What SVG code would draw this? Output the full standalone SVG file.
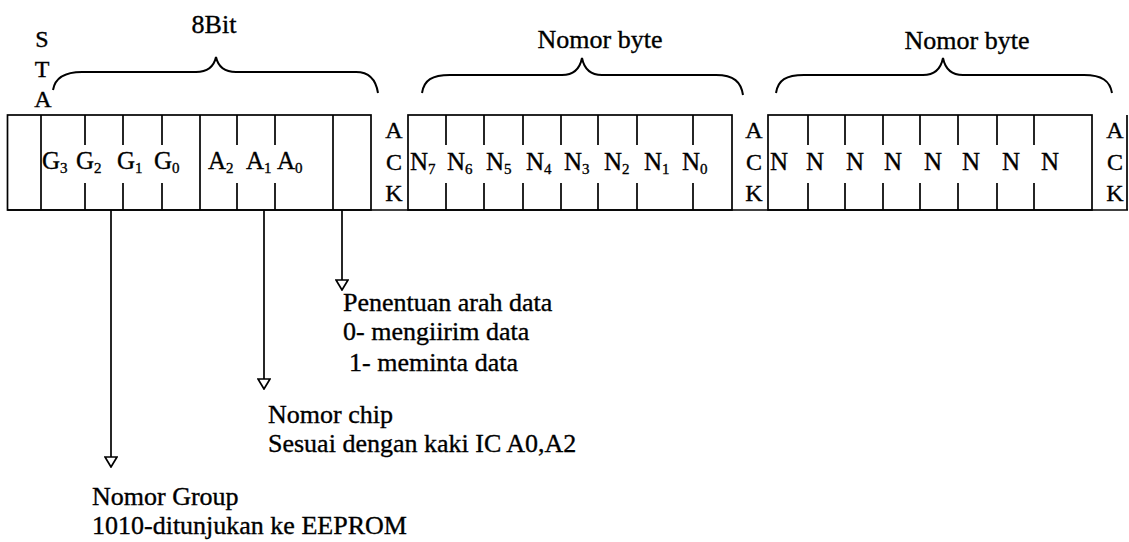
<svg xmlns="http://www.w3.org/2000/svg" width="1129" height="542" viewBox="0 0 1129 542">
<style>
  text { font-family: "Liberation Serif", "Times New Roman", serif; fill: #000; stroke: #000; stroke-width: 0.35px; }
  .ln { stroke: #000; stroke-width: 1.7; fill: none; }
  .br { stroke: #000; stroke-width: 2; fill: none; }
  .cell { font-size: 25px; }
  .sub { font-size: 15px; }
  .ack { font-size: 24px; text-anchor: middle; }
  .hdr { font-size: 26px; text-anchor: middle; }
  .note { font-size: 26px; }
</style>
<defs>
  <marker id="tri" viewBox="0 0 12 14" refX="11" refY="7" markerWidth="12" markerHeight="14" markerUnits="userSpaceOnUse" orient="auto">
    <path d="M1,1 L11,7 L1,13 Z" fill="#fff" stroke="#000" stroke-width="1.7" stroke-linejoin="miter"/>
  </marker>
</defs>
<rect width="1129" height="542" fill="#fff"/>

<g id="sta">
  <text class="ack" x="42" y="47">S</text>
  <text class="ack" x="42" y="77">T</text>
  <text class="ack" x="43" y="107">A</text>
</g>

<g id="frame-baseline">
  <line class="ln" x1="7.5" y1="210" x2="1128" y2="210"/>
  <line class="ln" x1="1127" y1="115" x2="1127" y2="210"/>
</g>

<g id="block-address">
  <rect class="ln" x="7.5" y="115" width="363.5" height="95"/>
  <line class="ln" x1="41" y1="115" x2="41" y2="210"/>
  <line class="ln" x1="200" y1="115" x2="200" y2="210"/>
  <line class="ln" x1="333" y1="115" x2="333" y2="210"/>
  <path class="ln" d="M85,115V145M85,183V210M123,115V145M123,183V210M162,115V145M162,183V210M237,115V145M237,183V210M275,115V145M275,183V210"/>
  <text class="cell" x="42" y="169">G<tspan class="sub" dy="4">3</tspan></text>
  <text class="cell" x="76" y="169">G<tspan class="sub" dy="4">2</tspan></text>
  <text class="cell" x="117" y="169">G<tspan class="sub" dy="4">1</tspan></text>
  <text class="cell" x="154" y="169">G<tspan class="sub" dy="4">0</tspan></text>
  <text class="cell" x="208" y="169">A<tspan class="sub" dy="4">2</tspan></text>
  <text class="cell" x="246" y="169">A<tspan class="sub" dy="4">1</tspan></text>
  <text class="cell" x="277" y="169">A<tspan class="sub" dy="4">0</tspan></text>
</g>

<g id="ack-1">
  <text class="ack" x="394" y="138">A</text>
  <text class="ack" x="394" y="170">C</text>
  <text class="ack" x="394" y="201">K</text>
</g>

<g id="block-byte-1">
  <rect class="ln" x="408" y="115" width="324" height="95"/>
  <path class="ln" d="M446,115V145M446,183V210M484,115V145M484,183V210M523,115V145M523,183V210M561,115V145M561,183V210M598,115V145M598,183V210M637,115V145M637,183V210M693,115V145M693,183V210"/>
  <text class="cell" x="410" y="170">N<tspan class="sub" dy="4">7</tspan></text>
  <text class="cell" x="447" y="170">N<tspan class="sub" dy="4">6</tspan></text>
  <text class="cell" x="486" y="170">N<tspan class="sub" dy="4">5</tspan></text>
  <text class="cell" x="526" y="170">N<tspan class="sub" dy="4">4</tspan></text>
  <text class="cell" x="564" y="170">N<tspan class="sub" dy="4">3</tspan></text>
  <text class="cell" x="604" y="170">N<tspan class="sub" dy="4">2</tspan></text>
  <text class="cell" x="644" y="170">N<tspan class="sub" dy="4">1</tspan></text>
  <text class="cell" x="682" y="170">N<tspan class="sub" dy="4">0</tspan></text>
</g>

<g id="ack-2">
  <text class="ack" x="754" y="138">A</text>
  <text class="ack" x="754" y="170">C</text>
  <text class="ack" x="754" y="201">K</text>
</g>

<g id="block-byte-2">
  <rect class="ln" x="768" y="115" width="324" height="95"/>
  <path class="ln" d="M808,115V145M808,183V210M845,115V145M845,183V210M883,115V145M883,183V210M920,115V145M920,183V210M958,115V145M958,183V210M997,115V145M997,183V210M1034,115V145M1034,183V210"/>
  <text class="cell" x="770" y="170">N</text>
  <text class="cell" x="806" y="170">N</text>
  <text class="cell" x="846" y="170">N</text>
  <text class="cell" x="884" y="170">N</text>
  <text class="cell" x="924" y="170">N</text>
  <text class="cell" x="962" y="170">N</text>
  <text class="cell" x="1002" y="170">N</text>
  <text class="cell" x="1041" y="170">N</text>
</g>

<g id="ack-3">
  <text class="ack" x="1115" y="138">A</text>
  <text class="ack" x="1115" y="170">C</text>
  <text class="ack" x="1115" y="201">K</text>
</g>

<g id="brace-8bit">
  <path class="br" d="M53,90 C55,78 64,72 82,72 L196,72 C208,72 214,66 216,57 C218,66 224,72 236,72 L356,72 C370,72 376,80 378,93"/>
  <text class="hdr" x="214" y="33">8Bit</text>
</g>

<g id="brace-byte-1">
  <path class="br" d="M422,93 C424,80 432,75 450,75 L562,75 C574,75 580,68 582,58 C584,68 590,75 602,75 L716,75 C734,75 741,82 743,95"/>
  <text class="hdr" x="600" y="48">Nomor byte</text>
</g>

<g id="brace-byte-2">
  <path class="br" d="M776,93 C778,80 786,75 804,75 L923,75 C935,75 941,68 943,58 C945,68 951,75 963,75 L1084,75 C1102,75 1110,81 1112,93"/>
  <text class="hdr" x="967" y="49">Nomor byte</text>
</g>

<g id="connectors">
  <line class="ln" x1="111" y1="210" x2="111" y2="467" marker-end="url(#tri)"/>
  <line class="ln" x1="264" y1="210" x2="264" y2="389" marker-end="url(#tri)"/>
  <line class="ln" x1="342" y1="210" x2="342" y2="290" marker-end="url(#tri)"/>
</g>

<g id="note-direction">
  <text class="note" x="343" y="311">Penentuan arah data</text>
  <text class="note" x="343" y="340">0- mengiirim data</text>
  <text class="note" x="349" y="371">1- meminta data</text>
</g>

<g id="note-chip">
  <text class="note" x="268" y="423">Nomor chip</text>
  <text class="note" x="268" y="452">Sesuai dengan kaki IC A0,A2</text>
</g>

<g id="note-group">
  <text class="note" x="92" y="505">Nomor Group</text>
  <text class="note" x="92" y="534">1010-ditunjukan ke EEPROM</text>
</g>
</svg>
